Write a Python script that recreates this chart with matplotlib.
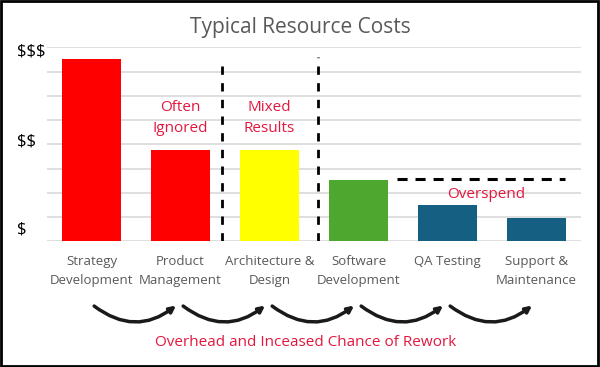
import matplotlib
matplotlib.use("Agg")
import matplotlib.pyplot as plt
from matplotlib.patches import FancyArrowPatch, Rectangle

plt.rcParams['font.family'] = ['Open Sans', 'DejaVu Sans']
plt.rcParams['text.parse_math'] = False

# data
stages = ["Strategy\nDevelopment", "Product\nManagement", "Architecture &\nDesign",
          "Software\nDevelopment", "QA Testing", "Support &\nMaintenance"]
costs = [7.5, 3.76, 3.76, 2.53, 1.48, 0.97]
colors = ["#FF0000", "#FF0000", "#FFFF00", "#4EA72E", "#156082", "#156082"]
cost_ticks = [0.55, 4.2, 7.9]
cost_labels = ["$", "$$", "$$$"]

red_txt = "#E3173E"
gray_txt = "#595959"

fig = plt.figure(figsize=(6, 3.67), dpi=100)
ax = fig.add_axes([47/600, 0.3425, 534/600, 0.5287])

x = range(len(stages))
ax.bar(x, costs, width=0.665, color=colors, zorder=3)

ax.set_xlim(-0.5, len(stages) - 0.5)
ax.set_ylim(0, 8)
ax.set_yticks(range(9), minor=True)
ax.grid(True, which="minor", axis="y", color="#d9d9d9", lw=1.2, zorder=0)
ax.set_yticks(cost_ticks)
ax.set_yticklabels(cost_labels, fontsize=12, color="black", ha="left")
ax.tick_params(axis="y", which="both", length=0, pad=21.6)
ax.set_xticks(list(x))
ax.set_xticklabels(stages, fontsize=9.5, color=gray_txt, linespacing=1.55)
ax.tick_params(axis="x", length=0, pad=10)
for s in ax.spines.values():
    s.set_visible(False)

# dashed separators
ax.plot([1.47, 1.47], [0, 7.47], ls=(0, (3, 3)), color="black", lw=2, zorder=4)
ax.plot([2.545, 2.545], [0, 7.6], ls=(0, (3, 3)), color="black", lw=2, zorder=4)
ax.plot([3.43, 5.32], [2.57, 2.57], ls=(0, (3.3, 2.6)), color="black", lw=2.2, zorder=4)

ax.text(1, 5.1, "Often\nIgnored", ha="center", va="center", color=red_txt,
        fontsize=11, linespacing=1.55)
ax.text(2, 5.1, "Mixed\nResults", ha="center", va="center", color=red_txt,
        fontsize=11, linespacing=1.55)
ax.text(4.44, 1.91, "Overspend", ha="center", va="center", color=red_txt, fontsize=11)

# curved arrows between stages
for i in range(len(stages) - 1):
    arr = FancyArrowPatch((i + 0.03, -2.67), (i + 0.95, -2.65),
                          connectionstyle="arc3,rad=0.38", arrowstyle="-|>",
                          mutation_scale=9, lw=2.5, color="#1a1a1a",
                          shrinkA=0, shrinkB=0, clip_on=False)
    ax.add_patch(arr)

fig.text(0.5, 0.926, "Typical Resource Costs", ha="center", va="center",
         fontsize=15, color=gray_txt)
fig.text(0.51, 0.0654, "Overhead and Inceased Chance of Rework", ha="center",
         va="center", fontsize=11, color=red_txt)

fig.patches.append(Rectangle((0.002, 0.003), 0.994, 0.994, transform=fig.transFigure,
                             fill=False, edgecolor="black", lw=2))

fig.savefig("out.png", dpi=100)
